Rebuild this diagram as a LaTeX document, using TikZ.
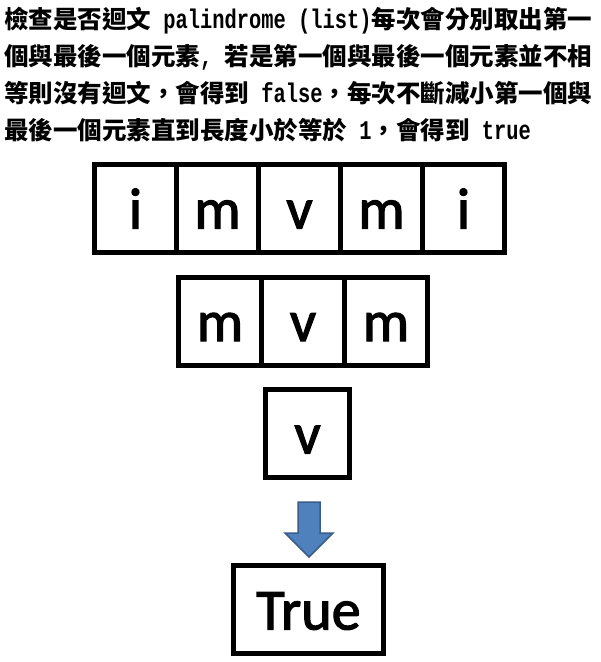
\documentclass[tikz,border=0pt]{standalone}
\usepackage{fontspec}
\setmainfont{Carlito}
\newfontfamily\boxfont{Carlito}[FakeBold=2]
\newfontfamily\cjk{Noto Sans CJK TC}
\newfontfamily\lat{Liberation Mono}[Scale=1.1, FakeStretch=0.757]
\newcommand{\zh}[1]{{\cjk\bfseries #1}}
\newcommand{\en}[1]{{\lat\bfseries #1}}
\usetikzlibrary{positioning}
\definecolor{arrowblue}{RGB}{79,129,189}
\definecolor{arrowedge}{RGB}{56,93,138}
\tikzset{
    letterbox/.style={draw, line width=5pt, fill=white, minimum width=82pt, minimum height=88pt,
        inner sep=0pt, outer sep=0pt, font=\boxfont\fontsize{58}{60}\selectfont, text height=40pt, text depth=0pt},
    textline/.style={anchor=base west, inner sep=0pt, font=\fontsize{24.5}{30}\selectfont},
    blockarrow/.style={fill=arrowblue, draw=arrowedge, line width=1.5pt, line join=miter}
}
\begin{document}
\begin{tikzpicture}[x=1pt, y=-1pt]
        \useasboundingbox (0,0) rectangle (601,662);

        % Description text
        \node[textline] (L1) at (4,28) {\zh{檢查是否迴文}\en{ palindrome (list)}\zh{每次會分別取出第一}};
        \node[textline] (L2) at (4,65) {\zh{個與最後一個元素}\en{,}\hspace{0.5em}\zh{若是第一個與最後一個元素並不相}};
        \node[textline] (L3) at (4,102) {\zh{等則沒有迴文，會得到}\en{ false}\zh{，每次不斷減小第一個與}};
        \node[textline] (L4) at (4,139) {\zh{最後一個元素直到長度小於等於}\en{ 1}\zh{，會得到}\en{ true}};

        % Full list
        \node[letterbox] (A1) at (135.5,208.5) {i};
        \node[letterbox, right=0pt of A1] (A2) {m};
        \node[letterbox, right=0pt of A2] (A3) {v};
        \node[letterbox, right=0pt of A3] (A4) {m};
        \node[letterbox, right=0pt of A4] (A5) {i};

        % First and last removed
        \node[letterbox, minimum width=83pt] (B1) at (220,321) {m};
        \node[letterbox, minimum width=83pt, right=0pt of B1] (B2) {v};
        \node[letterbox, minimum width=83pt, right=0pt of B2] (B3) {m};

        % Length one
        \node[letterbox, minimum width=84pt] (C1) at (307.5,433.5) {v};

        % Result
        \node[letterbox, minimum width=150pt] (TRUE) at (308.5,609.5) {True};

        % Block arrow from C1 to TRUE
        \coordinate (ARR) at ([xshift=1.5pt, yshift=-24.5pt]C1.south);
        \draw[blockarrow] (ARR) ++(-11,0) -- ++(22,0) -- ++(0,31) -- ++(13,0) -- ++(-24,24)
            -- ++(-24,-24) -- ++(13,0) -- cycle;
\end{tikzpicture}
\end{document}
